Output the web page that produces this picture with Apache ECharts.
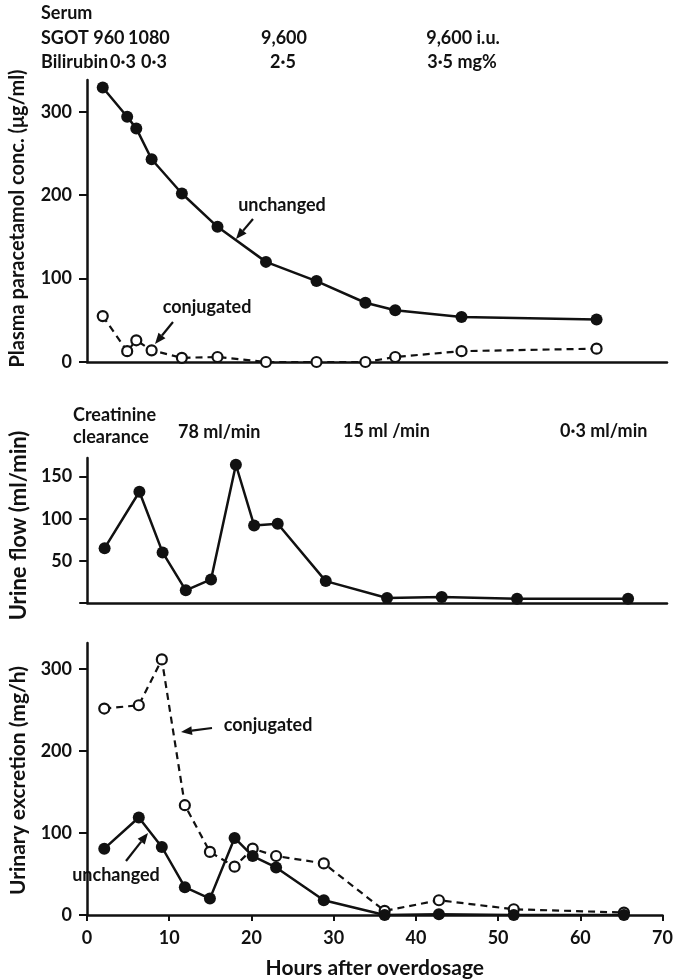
<!DOCTYPE html>
<html>
<head>
<meta charset="utf-8">
<script src="https://cdn.jsdelivr.net/npm/echarts@6/dist/echarts.min.js"></script>
<style>
html,body{margin:0;padding:0;background:#fff;}
#chart{width:676px;height:980px;}
</style>
</head>
<body>
<div id="chart"></div>
<script>
// ---- data ----
var plasmaHours = [1.9, 4.85, 5.95, 7.8, 11.45, 15.75, 21.6, 27.7, 33.6, 37.2, 45.2, 61.5];
var plasmaUnchanged = [329, 294, 280, 243, 202, 162, 120, 97, 71, 62, 54, 51];
var plasmaConjugated = [55, 13, 26, 14, 5, 6, 0, 0, 0, 6, 13, 16];

var urineHours = [2.1, 6.3, 9.1, 11.9, 14.95, 17.95, 20.15, 23.0, 28.8, 36.2, 42.8, 51.9, 65.3];
var urineFlow = [65, 132, 60, 15, 28, 164, 92, 94, 26, 6, 7, 5, 5];
var excretionUnchanged = [81, 119, 83, 34, 20, 94, 72, 58, 18, 0, 1, 0, 0];
var excretionConjugated = [252, 256, 312, 134, 77, 59, 81, 72, 63, 5, 18, 7, 3];

var xTicks = [0, 10, 20, 30, 40, 50, 60, 70];
var plasmaTicks = [0, 100, 200, 300];
var flowTicks = [0, 50, 100, 150];
var flowLabels = [50, 100, 150];
var excretionTicks = [0, 100, 200, 300];

var FONT = 'Lato';
var INK = '#111';

function pairs(xs, ys) { return xs.map(function (x, i) { return [x, ys[i]]; }); }

function xAx(gi, showLabels) {
  return {
    type: 'value', gridIndex: gi, min: 0, max: 70, interval: 10,
    axisLine: { show: true, lineStyle: { color: INK, width: 2.5 } },
    axisTick: { show: showLabels, length: 6, inside: false, customValues: xTicks, lineStyle: { color: INK, width: 2 } },
    axisLabel: { show: showLabels, customValues: xTicks, color: INK, fontFamily: FONT, fontWeight: 'bold', fontSize: 18, margin: 14 },
    splitLine: { show: false },
    name: showLabels ? 'Hours after overdosage' : '',
    nameLocation: 'middle', nameGap: 43,
    nameTextStyle: { color: INK, fontFamily: FONT, fontWeight: 'bold', fontSize: 21 }
  };
}
function yAx(gi, max, ticks, labels, name, size, gap, pad) {
  return {
    type: 'value', gridIndex: gi, min: 0, max: max,
    axisLine: { show: true, onZero: false, lineStyle: { color: INK, width: 2.5 } },
    axisTick: { show: true, length: 8, customValues: ticks, lineStyle: { color: INK, width: 2 } },
    axisLabel: { show: true, customValues: labels, color: INK, fontFamily: FONT, fontWeight: 'bold', fontSize: 18, margin: 15 },
    splitLine: { show: false },
    name: name, nameLocation: 'middle', nameGap: gap,
    nameTextStyle: { color: INK, fontFamily: FONT, fontWeight: 'bold', fontSize: size, padding: pad }
  };
}
function solid(xi, yi, data) {
  return {
    type: 'line', xAxisIndex: xi, yAxisIndex: yi, data: data, z: 3,
    symbol: 'circle', symbolSize: 12,
    itemStyle: { color: INK },
    lineStyle: { color: INK, width: 2.5 }
  };
}
function dashed(xi, yi, data) {
  return {
    type: 'line', xAxisIndex: xi, yAxisIndex: yi, data: data, z: 2,
    symbol: 'circle', symbolSize: 10,
    itemStyle: { color: '#fff', borderColor: INK, borderWidth: 2.2 },
    lineStyle: { color: INK, width: 2.2, type: [7, 5] }
  };
}
function txt(x, y, s, align, size) {
  return { type: 'text', x: x, y: y, style: { text: s, fill: INK, font: 'bold ' + (size || 18) + 'px ' + FONT, textAlign: align || 'left', textVerticalAlign: 'middle' } };
}
function arrow(x1, y1, x2, y2) {
  var dx = x2 - x1, dy = y2 - y1, L = Math.sqrt(dx * dx + dy * dy);
  var ux = dx / L, uy = dy / L, hl = 11, hw = 4.5;
  var bx = x2 - ux * hl, by = y2 - uy * hl;
  return [
    { type: 'line', shape: { x1: x1, y1: y1, x2: bx, y2: by }, style: { stroke: INK, lineWidth: 2.2 } },
    { type: 'polygon', shape: { points: [[x2, y2], [bx - uy * hw, by + ux * hw], [bx + uy * hw, by - ux * hw]] }, style: { fill: INK } }
  ];
}

var graphics = [
  txt(41, 13, 'Serum'),
  txt(41, 38, 'SGOT 960'), txt(128, 38, '1080'),
  txt(41, 62, 'Bilirubin'), txt(110, 62, '0·3'), txt(141, 62, '0·3'),
  txt(284, 38, '9,600', 'center'), txt(283, 62, '2·5', 'center'),
  txt(463, 38, '9,600 i.u.', 'center'), txt(462, 62, '3·5 mg%', 'center'),
  txt(73, 415, 'Creatinine'), txt(73, 437, 'clearance'),
  txt(178, 432, '78 ml/min'), txt(343, 431, '15 ml /min'), txt(560, 431, '0·3 ml/min'),
  txt(282, 205, 'unchanged', 'center'),
  txt(207, 307, 'conjugated', 'center'),
  txt(268, 725, 'conjugated', 'center'),
  txt(116, 875, 'unchanged', 'center')
].concat(arrow(253, 219, 236, 239))
 .concat(arrow(173, 322, 155, 344))
 .concat(arrow(212, 728, 181, 732))
 .concat(arrow(126, 861, 148, 833));

var chart = echarts.init(document.getElementById('chart'), null, { renderer: 'canvas' });
chart.setOption({
  animation: false,
  backgroundColor: '#fff',
  grid: [
    { left: 86, right: 9, top: 80, height: 282 },
    { left: 86, right: 9, top: 458, height: 145 },
    { left: 86, right: 9, top: 643, height: 275 }
  ],
  xAxis: [xAx(0, false), xAx(1, false), xAx(2, true)],
  yAxis: [
    yAx(0, 338, plasmaTicks, plasmaTicks, 'Plasma paracetamol conc. (\u03bcg/ml)', 20, 59, [0, 0, 0, 5]),
    yAx(1, 172, flowTicks, flowLabels, 'Urine flow (ml/min)', 22, 57, [0, 0, 0, 10]),
    yAx(2, 332, excretionTicks, excretionTicks, 'Urinary excretion (mg/h)', 21, 58, [0, 3, 0, 0])
  ],
  series: [
    dashed(0, 0, pairs(plasmaHours, plasmaConjugated)),
    solid(0, 0, pairs(plasmaHours, plasmaUnchanged)),
    solid(1, 1, pairs(urineHours, urineFlow)),
    dashed(2, 2, pairs(urineHours, excretionConjugated)),
    solid(2, 2, pairs(urineHours, excretionUnchanged))
  ],
  graphic: graphics
});
</script>
</body>
</html>
